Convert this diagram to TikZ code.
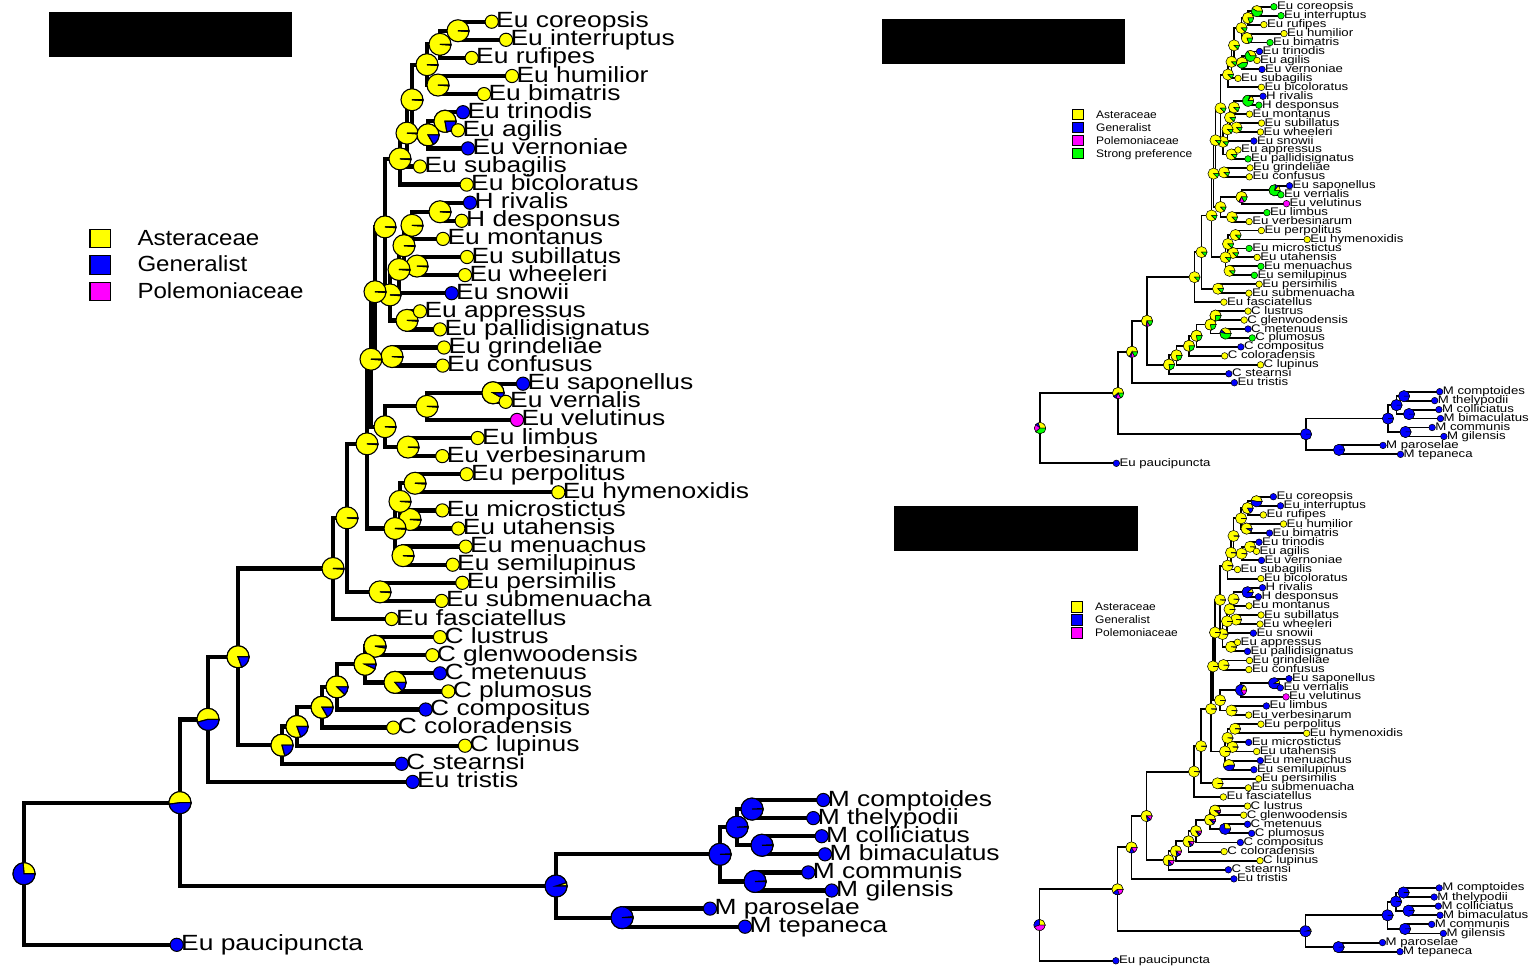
\documentclass[tikz,border=0pt]{standalone}
\usepackage{fontspec}
\setmainfont{Liberation Sans}
\definecolor{tY}{RGB}{255,255,0}
\definecolor{tB}{RGB}{0,0,255}
\definecolor{tM}{RGB}{255,0,255}
\definecolor{tG}{RGB}{0,255,0}
\tikzset{
  tiplabel/.style={anchor=base west, inner sep=0pt},
  legbox/.style={draw=black, inner sep=0pt},
  legtext/.style={anchor=base west, inner sep=0pt}
}
\def\tiplist{coreopsis/491.7/Eu coreopsis/tY/tG/tB,
interruptus/506/Eu interruptus/tY/tG/tB,
rufipes/471.7/Eu rufipes/tY/tY/tY,
humilior/512/Eu humilior/tY/tY/tY,
bimatris/484/Eu bimatris/tY/tG/tB,
trinodis/463/Eu trinodis/tB/tB/tB,
agilis/458/Eu agilis/tY/tY/tY,
vernoniae/468/Eu vernoniae/tB/tB/tB,
subagilis/420/Eu subagilis/tY/tY/tY,
bicoloratus/466.7/Eu bicoloratus/tY/tY/tY,
rivalis/470/H rivalis/tB/tB/tB,
desponsus/461.7/H desponsus/tY/tG/tB,
montanus/443/Eu montanus/tY/tY/tY,
subillatus/467/Eu subillatus/tY/tY/tY,
wheeleri/465/Eu wheeleri/tY/tY/tY,
snowii/451.7/Eu snowii/tB/tB/tB,
appressus/420/Eu appressus/tY/tY/tY,
pallidisignatus/440/Eu pallidisignatus/tY/tG/tB,
grindeliae/444/Eu grindeliae/tY/tY/tY,
confusus/442.7/Eu confusus/tY/tY/tY,
saponellus/523/Eu saponellus/tB/tB/tB,
vernalis/505.7/Eu vernalis/tY/tG/tB,
velutinus/517/Eu velutinus/tM/tM/tM,
limbus/477.7/Eu limbus/tY/tG/tB,
verbesinarum/442.3/Eu verbesinarum/tY/tY/tY,
perpolitus/466.7/Eu perpolitus/tY/tY/tY,
hymenoxidis/558.3/Eu hymenoxidis/tY/tY/tY,
microstictus/442.3/Eu microstictus/tY/tG/tB,
utahensis/458.3/Eu utahensis/tY/tY/tY,
menuachus/465.7/Eu menuachus/tY/tG/tB,
semilupinus/452.7/Eu semilupinus/tY/tG/tB,
persimilis/462.3/Eu persimilis/tY/tY/tY,
submenuacha/441.7/Eu submenuacha/tY/tY/tY,
fasciatellus/391.7/Eu fasciatellus/tY/tY/tY,
lustrus/440/C lustrus/tY/tY/tY,
glenwoodensis/432.3/C glenwoodensis/tY/tY/tY,
metenuus/440/C metenuus/tB/tB/tB,
plumosus/448.3/C plumosus/tY/tG/tB,
compositus/425.7/C compositus/tB/tB/tB,
coloradensis/393.3/C coloradensis/tY/tY/tY,
lupinus/465/C lupinus/tY/tY/tY,
stearnsi/401.7/C stearnsi/tB/tB/tB,
tristis/412.7/Eu tristis/tB/tB/tB,
comptoides/823.3/M comptoides/tB/tB/tB,
thelypodii/813.3/M thelypodii/tB/tB/tB,
colliciatus/821.7/M colliciatus/tB/tB/tB,
bimaculatus/825/M bimaculatus/tB/tB/tB,
communis/808.3/M communis/tB/tB/tB,
gilensis/831.7/M gilensis/tB/tB/tB,
paroselae/710/M paroselae/tB/tB/tB,
tepaneca/745/M tepaneca/tB/tB/tB,
paucipuncta/176.7/Eu paucipuncta/tB/tB/tB}
\def\innerlist{A1/458/1.5, A2/440/2.25, A3/438/4.5, A4/427/3.375, B1/445/6.5, B2/428/7.25,
A5/412/5.3125, A6/407/7.156, A7/400/8.578, C1/440/11.5, C2/412/12.25, C3/417/14.5,
C4/404/13.375, C5/399/14.688, C6/407/17.5, C8/390/16.094, P1/385/12.336, C7/392/19.5,
P2/375/15.918, D1/493/21.5, D2/427/22.25, D3/408/24.5, D4/385/23.375, P3/371/19.646,
E1/415/26.5, E2/410/28.5, E3/400/27.5, E5/403/30.5, E4/395/29, P4/367/24.323,
F1/380/32.5, P5/347/28.411, P6/333/31.206, J1/375/35.5, J2/395/37.5, J3/365/36.5,
J4/337/37.75, J5/322/38.875, J6/297/39.938, J7/282/40.969, L1/238/36.087, L2/208/39.544,
N1/752/44.5, N2/762/46.5, N3/737/45.5, N4/755/48.5, N5/720/47, N6/622/50.5,
N7/556/48.75, L3/180/44.147, R/24/48.073}
\def\edgelist{A1/coreopsis/interruptus, A2/A1/rufipes, A3/humilior/bimatris, A4/A2/A3,
B1/trinodis/agilis, B2/B1/vernoniae, A5/A4/B2, A6/A5/subagilis, A7/A6/bicoloratus,
C1/rivalis/desponsus, C2/C1/montanus, C3/subillatus/wheeleri, C4/C2/C3, C5/C4/snowii,
C6/appressus/pallidisignatus, C8/C5/C6, P1/A7/C8, C7/grindeliae/confusus, P2/P1/C7,
D1/saponellus/vernalis, D2/D1/velutinus, D3/limbus/verbesinarum, D4/D2/D3, P3/P2/D4,
E1/perpolitus/hymenoxidis, E2/microstictus/utahensis, E3/E1/E2, E5/menuachus/semilupinus,
E4/E3/E5, P4/P3/E4, F1/persimilis/submenuacha, P5/P4/F1, P6/P5/fasciatellus,
J1/lustrus/glenwoodensis, J2/metenuus/plumosus, J3/J1/J2, J4/J3/compositus,
J5/J4/coloradensis, J6/J5/lupinus, J7/J6/stearnsi, L1/P6/J7, L2/L1/tristis,
N1/comptoides/thelypodii, N2/colliciatus/bimaculatus, N3/N1/N2, N4/communis/gilensis,
N5/N3/N4, N6/paroselae/tepaneca, N7/N5/N6, L3/L2/N7, R/L3/paucipuncta}

\newcommand{\treecoords}[1]{%
  \foreach \n/\x/\lab/\cb/\cg/\cp [count=\r] in \tiplist {\coordinate (#1-\n) at (\x,\r);}
  \foreach \n/\x/\r in \innerlist {\coordinate (#1-\n) at (\x,\r);}
}
\newcommand{\treebranches}[2]{%
  \foreach \up/\kidA/\kidB in \edgelist {\draw[line width=#2] (#1-\kidA) -| (#1-\up) |- (#1-\kidB);}
}
\newcommand{\nodepie}[6]{%
  \foreach \col/\sa/\ea in {tY/0/#4, tB/#4/#5, tM/#5/#6, tG/#6/360} {
    \ifdim\ea pt>\sa pt
      \filldraw[fill=\col, draw=black, line width=#3] (#1) -- ++(\sa:#2) arc[start angle=\sa, end angle=\ea, radius=#2] -- cycle;
    \fi
  }
}
\newcommand{\treetips}[7]{%
  \foreach \n/\x/\lab/\cb/\cg/\cp in \tiplist {
    \ifcase#7\or\let\tipcol\cb\or\let\tipcol\cg\or\let\tipcol\cp\fi
    \filldraw[fill=\tipcol, draw=black, line width=#3] (#1-\n) circle[radius=#2];
  }
  \foreach \n/\x/\lab/\cb/\cg/\cp in \tiplist
    \node[tiplabel, font=#4] (#1-\n-lab) at ([shift={(#5,#6)}]#1-\n) {\scalebox{1.2}[1]{\lab}};
}

\begin{document}
\begin{tikzpicture}[x=1pt, y=-1pt]
\useasboundingbox (0,0) rectangle (1530,970);
\fill[white] (0,0) rectangle (1530,970);

\begin{scope}[shift={(0,3.6)}, yscale=18.1] \treecoords{b} \end{scope}
\begin{scope}[shift={(1028,-4)}, xscale=0.5, yscale=0.4946]
  \begin{scope}[shift={(0,3.6)}, yscale=18.1] \treecoords{g} \end{scope}
\end{scope}
\begin{scope}[shift={(1027.5,485.8)}, xscale=0.5, yscale=0.5027]
  \begin{scope}[shift={(0,3.6)}, yscale=18.1] \treecoords{p} \end{scope}
\end{scope}

% large tree
\treebranches{b}{4.3pt}
\foreach \n/\x/\r in \innerlist {\nodepie{b-\n}{11pt}{1.1pt}{356}{360}{360}}
\foreach \n/\ya/\yb/\yc in {B1/280/360/360, B2/300/360/360, D1/330/360/360, J1/350/360/360,
  J2/310/360/360, J3/335/360/360, J4/315/360/360, J5/300/360/360, J6/290/360/360,
  J7/285/360/360, L1/290/360/360, L2/195/360/360, L3/188/360/360, R/95/360/360,
  N1/3/360/360, N2/3/360/360, N3/3/360/360, N4/3/360/360, N5/3/360/360, N6/6/360/360, N7/18/360/360}
  {\nodepie{b-\n}{11pt}{1.1pt}{\ya}{\yb}{\yc}}
\treetips{b}{6.6pt}{1pt}{\fontsize{22}{22}\selectfont}{4.3}{6}{1}

% small tree with strong preference
\treebranches{g}{1.9pt}
\foreach \n/\x/\r in \innerlist {\nodepie{g-\n}{5.6pt}{0.5pt}{315}{315}{315}}
\foreach \n/\ya/\yb/\yc in {A1/150/150/150, A2/290/290/290, A3/290/290/290, B1/120/120/120,
  B2/210/210/210, C1/60/70/70, D1/50/80/80, D2/240/250/300, J1/270/270/270, J2/140/170/170,
  J3/280/280/280, J4/280/280/280, J5/280/280/280, J6/280/280/280, J7/280/280/280,
  L1/260/270/300, L2/240/260/300, L3/220/250/300, R/110/140/220,
  N1/0/360/360, N2/0/360/360, N3/0/360/360, N4/0/360/360, N5/0/360/360, N6/0/360/360, N7/0/360/360}
  {\nodepie{g-\n}{5.6pt}{0.5pt}{\ya}{\yb}{\yc}}
\treetips{g}{3.3pt}{0.5pt}{\fontsize{11}{11}\selectfont}{3}{3}{2}

% small tree without strong preference
\treebranches{p}{1.9pt}
\foreach \n/\x/\r in \innerlist {\nodepie{p-\n}{5.6pt}{0.5pt}{356}{360}{360}}
\foreach \n/\ya/\yb/\yc in {A1/170/360/360, A2/300/360/360, A3/330/360/360, C1/40/360/360,
  D1/30/360/360, D2/60/300/360, E5/200/360/360, J1/320/340/360, J2/100/360/360,
  J3/310/340/360, J4/300/330/360, J5/290/320/360, J6/280/320/360, J7/270/310/360,
  L1/280/320/360, L2/250/300/360, L3/220/290/360, R/90/200/360,
  N1/3/360/360, N2/3/360/360, N3/3/360/360, N4/3/360/360, N5/3/360/360, N6/3/360/360, N7/15/360/360}
  {\nodepie{p-\n}{5.6pt}{0.5pt}{\ya}{\yb}{\yc}}
\treetips{p}{3.3pt}{0.5pt}{\fontsize{11}{11}\selectfont}{3}{3}{3}

% legends
\foreach \k/\col/\txt [count=\i] in {aster/tY/Asteraceae, gener/tB/Generalist, polem/tM/Polemoniaceae} {
  \node[legbox, line width=1.2pt, fill=\col, minimum width=20.7pt, minimum height=18.4pt] (b-leg-\k) at (100.3,212+26.5*\i) {};
  \node[legtext, font=\fontsize{21.9}{22}\selectfont] (b-legtxt-\k) at (137.3,218.5+26.5*\i) {\scalebox{1.1}[1]{\txt}};
}
\foreach \k/\col/\txt [count=\i] in {aster/tY/Asteraceae, gener/tB/Generalist, polem/tM/Polemoniaceae, strong/tG/Strong preference} {
  \node[legbox, line width=0.6pt, fill=\col, minimum width=11pt, minimum height=10.5pt] (g-leg-\k) at (1077.8,101.5+13*\i) {};
  \node[legtext, font=\fontsize{10.9}{11}\selectfont] (g-legtxt-\k) at (1096,105.4+13*\i) {\scalebox{1.1}[1]{\txt}};
}
\foreach \k/\col/\txt [count=\i] in {aster/tY/Asteraceae, gener/tB/Generalist, polem/tM/Polemoniaceae} {
  \node[legbox, line width=0.6pt, fill=\col, minimum width=11pt, minimum height=10.5pt] (p-leg-\k) at (1077.2,593.7+13*\i) {};
  \node[legtext, font=\fontsize{10.9}{11}\selectfont] (p-legtxt-\k) at (1095,597.6+13*\i) {\scalebox{1.1}[1]{\txt}};
}

\fill[black] (49,12) rectangle (292,57);
\fill[black] (882,19) rectangle (1125,64);
\fill[black] (894,506) rectangle (1138,551);
\end{tikzpicture}
\end{document}
